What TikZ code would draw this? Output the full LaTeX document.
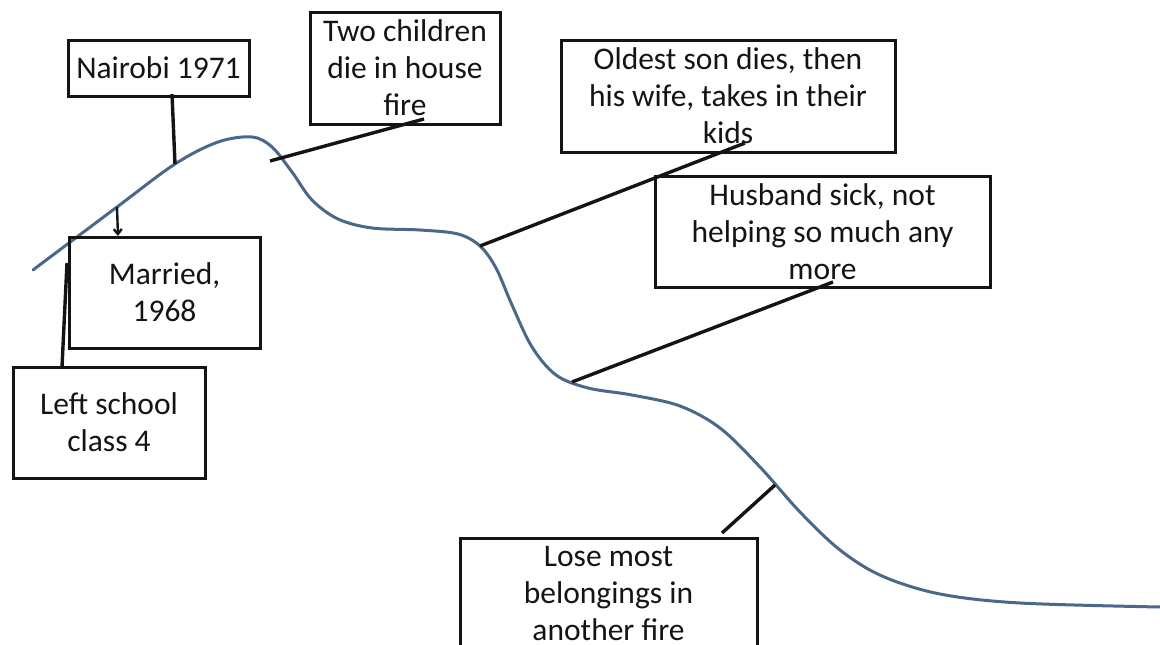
\documentclass[tikz,border=0pt]{standalone}
\usepackage{fontspec}
\setmainfont{Carlito}
\usetikzlibrary{arrows.meta}
\definecolor{curveblue}{RGB}{74,104,138}
\definecolor{ink}{RGB}{20,20,20}
\begin{document}
\begin{tikzpicture}[x=1pt,y=-1pt,
  evbox/.style={draw=ink,line width=3pt,inner sep=0pt,align=center,
    font=\fontsize{31.5}{37}\selectfont,text=ink},
  conn/.style={draw=ink,line width=3.4pt}]
\useasboundingbox (0,0) rectangle (1160,645);
% life curve
\draw[curveblue,line width=3pt,line cap=round] plot[smooth,tension=0.55] coordinates {
 (33,270) (117,207) (175,164) (218,142) (252,137) (272,147) (292,172)
 (312,200) (338,219) (372,228) (420,230) (458,234) (480,246) (496,268)
 (512,305) (532,347) (556,375) (588,388) (632,395) (680,406) (720,428)
 (760,467) (800,512) (840,550) (882,576) (940,594) (1020,603) (1160,607)};
% boxes
\node[evbox,minimum width=181pt,minimum height=56pt] (nairobi) at (158.5,68) {Nairobi 1971};
\node[evbox,minimum width=190pt,minimum height=112pt] (fire1) at (405,68) {Two children\\die in house\\fire};
\node[evbox,minimum width=334pt,minimum height=112pt] (son) at (728,96) {Oldest son dies, then\\his wife, takes in their\\kids};
\node[evbox,minimum width=335pt,minimum height=111pt] (husband) at (822.5,231.5) {Husband sick, not\\helping so much any\\more};
\node[evbox,minimum width=191pt,minimum height=111pt] (married) at (164.5,292.5) {Married,\\1968};
\node[evbox,minimum width=192pt,minimum height=111pt] (school) at (109,422.5) {Left school\\class 4};
\node[evbox,minimum width=297pt,minimum height=112pt] (fire2) at (608.5,594) {Lose most\\belongings in\\another fire};
% connector end points
\coordinate (nairobiA) at (172,94);
\coordinate (nairobiB) at (175,164);
\coordinate (fire1A) at (270,161);
\coordinate (fire1B) at (424,119);
\coordinate (marriedA) at (117,207);
\coordinate (marriedB) at (118,236);
\coordinate (schoolA) at (62,367);
\coordinate (schoolB) at (67,263);
\coordinate (sonA) at (480,246);
\coordinate (sonB) at (745,143);
\coordinate (husbandA) at (572,382);
\coordinate (husbandB) at (833,282);
\coordinate (fire2A) at (722,533);
\coordinate (fire2B) at (775,485);
% connectors
\draw[conn] (nairobiA) -- (nairobiB);
\draw[conn] (fire1A) -- (fire1B);
\draw[conn,line width=2.4pt,-{Straight Barb[length=5pt,width=8pt]}] (marriedA) -- (marriedB);
\draw[conn] (schoolA) -- (schoolB);
\draw[conn] (sonA) -- (sonB);
\draw[conn] (husbandA) -- (husbandB);
\draw[conn] (fire2A) -- (fire2B);
\end{tikzpicture}
\end{document}
